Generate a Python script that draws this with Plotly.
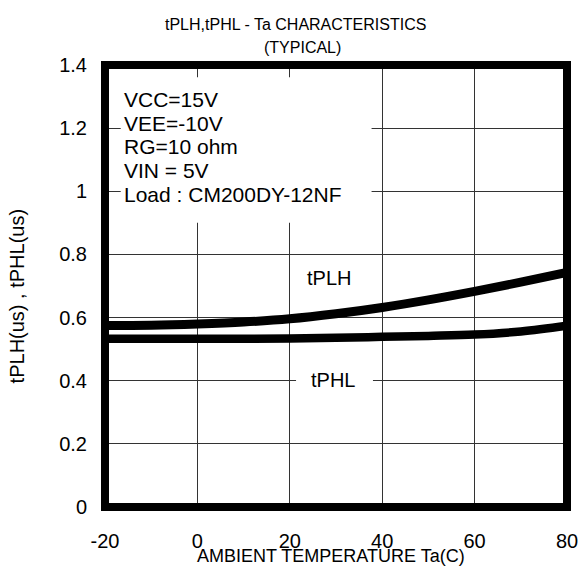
import plotly.graph_objects as go

ta = [-20, -10, 0, 10, 20, 30, 40, 50, 60, 70, 80]
tplh = [0.575, 0.576, 0.580, 0.586, 0.596, 0.612, 0.632, 0.656, 0.683, 0.712, 0.743]
tphl = [0.533, 0.533, 0.533, 0.533, 0.534, 0.536, 0.539, 0.542, 0.546, 0.556, 0.574]

x_ticks = [-20, 0, 20, 40, 60, 80]
x_tick_text = ["-20", "0", "20", "40", "60", "80"]
y_ticks = [0, 0.2, 0.4, 0.6, 0.8, 1.0, 1.2, 1.4]
y_tick_text = ["0", "0.2", "0.4", "0.6", "0.8", "1", "1.2", "1.4"]

note_lines = ["VCC=15V", "VEE=-10V", "RG=10 ohm", "VIN = 5V", "Load : CM200DY-12NF"]
title_lines = ["tPLH,tPHL - Ta CHARACTERISTICS", "(TYPICAL)"]
x_title = "AMBIENT TEMPERATURE Ta(C)"
y_title = "tPLH(us) , tPHL(us)"

FONT = "Liberation Sans, Arial, sans-serif"

# body margin is removed in the page, so the figure fills the window exactly
OFF = 0
W, H = 581, 574
PL, PT = 105 - OFF, 64.5 - OFF
PR = W - (566.7 - OFF)
PB = H - (506.6 - OFF)
PW = W - PL - PR
PH = H - PT - PB


def px_x(px):
    return (px - OFF - PL) / PW


def px_y(py):
    return (H - PB - (py - OFF)) / PH


fig = go.Figure()
fig.add_trace(go.Scatter(x=ta, y=tplh, mode="lines", name="tPLH",
                         line=dict(color="black", width=9, shape="spline")))
fig.add_trace(go.Scatter(x=ta, y=tphl, mode="lines", name="tPHL",
                         line=dict(color="black", width=8.5, shape="spline")))

# white boxes behind text, covering gridlines
fig.add_shape(type="rect", x0=-16.6, x1=37.7, y0=0.90, y1=1.361, xref="x", yref="y",
              fillcolor="white", line=dict(width=0), layer="between")
fig.add_shape(type="rect", x0=21.35, x1=38.0, y0=0.36, y1=0.44, xref="x", yref="y",
              fillcolor="white", line=dict(width=0), layer="between")
# frame
fig.add_shape(type="rect", x0=0, x1=1, y0=0, y1=1, xref="paper", yref="paper",
              line=dict(color="black", width=8), fillcolor="rgba(0,0,0,0)", layer="above")

ann = []
for i, t in enumerate(note_lines):
    ann.append(dict(x=-16.3, y=1.291 - 0.0753 * i, xref="x", yref="y", text=t,
                    showarrow=False, xanchor="left", yanchor="middle",
                    font=dict(family=FONT, size=21, color="black")))
ann.append(dict(x=28.5, y=0.724, xref="x", yref="y", text="tPLH", showarrow=False,
                xanchor="center", yanchor="middle", font=dict(family=FONT, size=20, color="black")))
ann.append(dict(x=29.4, y=0.401, xref="x", yref="y", text="tPHL", showarrow=False,
                xanchor="center", yanchor="middle", font=dict(family=FONT, size=20, color="black")))
ann.append(dict(x=px_x(295), y=px_y(24), xref="paper", yref="paper",
                text=title_lines[0], showarrow=False, xanchor="center", yanchor="middle",
                font=dict(family=FONT, size=16, color="black")))
ann.append(dict(x=px_x(302), y=px_y(46.5), xref="paper", yref="paper",
                text=title_lines[1], showarrow=False, xanchor="center", yanchor="middle",
                font=dict(family=FONT, size=16, color="black")))
ann.append(dict(x=px_x(330.5), y=px_y(556), xref="paper", yref="paper",
                text=x_title, showarrow=False, xanchor="center", yanchor="middle",
                font=dict(family=FONT, size=18, color="black")))
ann.append(dict(x=px_x(18), y=px_y(296), xref="paper", yref="paper",
                text=y_title, showarrow=False, xanchor="center", yanchor="middle", textangle=-90,
                font=dict(family=FONT, size=20, color="black")))

fig.update_layout(
    width=W, height=H,
    margin=dict(l=PL, r=PR, t=PT, b=PB, pad=0, autoexpand=False),
    paper_bgcolor="white", plot_bgcolor="white",
    showlegend=False,
    annotations=ann,
    font=dict(family=FONT, size=20, color="black"),
)
fig.update_xaxes(range=[-20, 80], tickvals=x_ticks, ticktext=x_tick_text, showgrid=True,
                 gridcolor="#333", gridwidth=1,
                 zeroline=False, showline=False, ticks="outside", ticklen=16, tickcolor="rgba(0,0,0,0)",
                 ticklabeloverflow="allow",
                 tickfont=dict(family=FONT, size=20, color="black"))
fig.update_yaxes(range=[0, 1.4], tickvals=y_ticks, ticktext=y_tick_text, showgrid=True, gridcolor="#333",
                 gridwidth=1, zeroline=False, showline=False, ticks="outside", ticklen=13,
                 ticklabeloverflow="allow",
                 tickcolor="rgba(0,0,0,0)", tickfont=dict(family=FONT, size=20, color="black"))

fig.write_html("out.html", config={"displayModeBar": False},
               post_script="document.body.style.margin='0px';")
